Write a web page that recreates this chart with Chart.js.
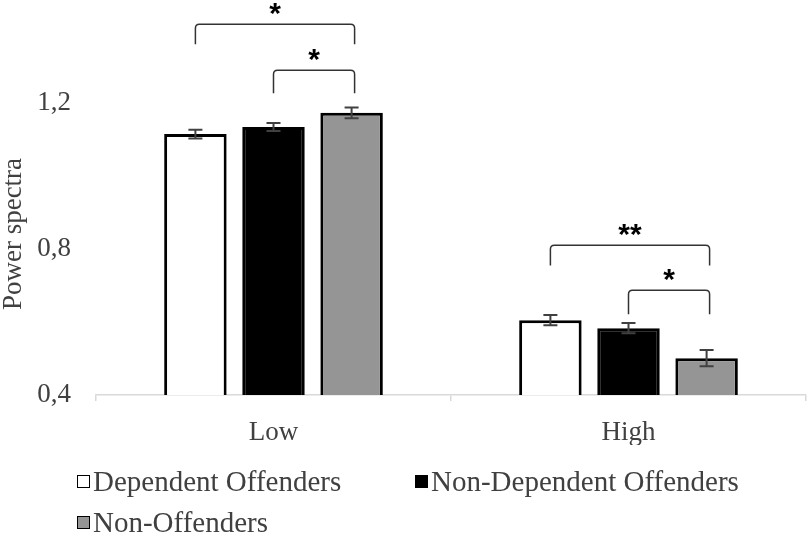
<!DOCTYPE html>
<html>
<head>
<meta charset="utf-8">
<script src="https://cdn.jsdelivr.net/npm/chart.js@4/dist/chart.umd.min.js"></script>
<style>
  body { margin: 0; background: #fff; }
  #wrap { position: relative; width: 810px; height: 541px; }
  #legend { position: absolute; left: 0; top: 0; width: 810px; height: 541px; pointer-events: none;
            font-family: "Liberation Serif", "Times New Roman", serif; font-size: 29px; color: #404040; }
  .item { position: absolute; display: flex; align-items: center; white-space: nowrap; }
  .box { width: 11px; height: 11px; border: 1.5px solid #000; margin-right: 3px; }
</style>
</head>
<body>
<div id="wrap">
  <canvas id="chart" width="810" height="541"></canvas>
  <div id="legend"></div>
</div>
<script>
// data
const categories = ["Low", "High"];
const seriesNames = ["Dependent Offenders", "Non-Dependent Offenders", "Non-Offenders"];
const dependent = [1.115, 0.605];
const nonDependent = [1.134, 0.583];
const nonOffenders = [1.173, 0.501];
const dependentErr = [0.012, 0.014];
const nonDependentErr = [0.011, 0.014];
const nonOffendersErr = [0.015, 0.022];
const yTicks = [0.4, 0.8, 1.2];

// significance brackets: category, from series, to series, top, leg end, label
const bracketCategory = [0, 0, 1, 1];
const bracketFrom = [0, 1, 0, 1];
const bracketTo = [2, 2, 2, 2];
const bracketTop = [1.416, 1.29, 0.81, 0.687];
const bracketEnd = [1.361, 1.227, 0.755, 0.621];
const bracketStars = ["*", "*", "**", "*"];

const fillColors = ["#ffffff", "#000000", "#959595"];
const errors = [dependentErr, nonDependentErr, nonOffendersErr];

const textColor = "#404040";
const serif = "'Liberation Serif', 'Times New Roman', serif";

// error bars
const errorBars = {
    id: "errorBars",
    afterDatasetsDraw(chart) {
        const ctx = chart.ctx;
        const y = chart.scales.y;
        ctx.save();
        ctx.strokeStyle = "#404040";
        ctx.lineWidth = 2;
        chart.data.datasets.forEach((ds, i) => {
            const meta = chart.getDatasetMeta(i);
            meta.data.forEach((bar, j) => {
                const v = ds.data[j];
                const e = errors[i][j];
                const top = y.getPixelForValue(v + e);
                const bot = y.getPixelForValue(v - e);
                ctx.beginPath();
                ctx.moveTo(bar.x, top); ctx.lineTo(bar.x, bot);
                ctx.moveTo(bar.x - 7, top); ctx.lineTo(bar.x + 7, top);
                ctx.moveTo(bar.x - 7, bot); ctx.lineTo(bar.x + 7, bot);
                ctx.stroke();
            });
        });
        ctx.restore();
    }
};

// brackets with asterisks, plus the axis title placed like the original
const brackets = {
    id: "brackets",
    afterDraw(chart) {
        const ctx = chart.ctx;
        const y = chart.scales.y;
        ctx.save();
        ctx.strokeStyle = "#333";
        ctx.lineWidth = 1.5;
        ctx.fillStyle = "#000";
        ctx.font = "bold 30px 'Liberation Sans', Arial, sans-serif";
        ctx.textAlign = "center";
        ctx.textBaseline = "alphabetic";
        bracketCategory.forEach((c, k) => {
            const x1 = chart.getDatasetMeta(bracketFrom[k]).data[c].x;
            const x2 = chart.getDatasetMeta(bracketTo[k]).data[c].x + 3;
            const top = y.getPixelForValue(bracketTop[k]);
            const end = y.getPixelForValue(bracketEnd[k]);
            const r = 4;
            ctx.beginPath();
            ctx.moveTo(x1, end);
            ctx.lineTo(x1, top + r);
            ctx.quadraticCurveTo(x1, top, x1 + r, top);
            ctx.lineTo(x2 - r, top);
            ctx.quadraticCurveTo(x2, top, x2, top + r);
            ctx.lineTo(x2, end);
            ctx.stroke();
            ctx.fillText(bracketStars[k], (x1 + x2) / 2, top - 1);
        });

        // y axis title
        ctx.fillStyle = textColor;
        ctx.font = "27px " + serif;
        ctx.textBaseline = "middle";
        ctx.translate(14, 234);
        ctx.rotate(-Math.PI / 2);
        ctx.fillText("Power spectra", 0, 0);
        ctx.restore();
    }
};

const datasets = [dependent, nonDependent, nonOffenders].map((d, i) => ({
    label: seriesNames[i],
    data: d,
    backgroundColor: fillColors[i],
    borderColor: "#000000",
    borderWidth: 3,
    borderSkipped: false,
    categoryPercentage: 0.66,
    barPercentage: 0.8
}));

new Chart(document.getElementById("chart"), {
    type: "bar",
    data: { labels: categories, datasets: datasets },
    options: {
        responsive: false,
        animation: false,
        layout: { padding: { top: 30, right: 4, bottom: 96, left: 0 } },
        plugins: { legend: { display: false }, tooltip: { enabled: false } },
        scales: {
            x: {
                afterFit(scale) {
                    scale.height = 50;
                    scale.paddingLeft = 0; scale.paddingRight = 0;
                },
                grid: { display: true, drawOnChartArea: false, drawTicks: true, tickLength: 6,
                        color: "#d9d9d9", lineWidth: 1.5, offset: true },
                border: { display: true, color: "#d9d9d9", width: 1.5 },
                ticks: { color: textColor, padding: 16, font: { family: serif, size: 27 } }
            },
            y: {
                min: 0.4,
                max: 1.4,
                afterFit(scale) {
                    scale.width = 96;
                    scale.paddingTop = 0; scale.paddingBottom = 0;
                },
                afterBuildTicks(scale) { scale.ticks = yTicks.map(v => ({ value: v })); },
                grid: { display: false, drawTicks: false },
                border: { display: false },
                ticks: {
                    color: textColor, padding: 25, font: { family: serif, size: 27 },
                    callback: v => Number(v).toFixed(1).replace(".", ",")
                }
            }
        }
    },
    plugins: [errorBars, brackets]
});

// legend as html text
const legendPos = [[77, 481], [415, 481], [77, 522]];
const legend = document.getElementById("legend");
seriesNames.forEach((name, i) => {
    const item = document.createElement("div");
    item.className = "item";
    item.style.left = legendPos[i][0] + "px";
    item.style.top = (legendPos[i][1] - 17) + "px";
    item.style.height = "34px";
    const box = document.createElement("span");
    box.className = "box";
    box.style.background = fillColors[i];
    item.appendChild(box);
    item.appendChild(document.createTextNode(name));
    legend.appendChild(item);
});
</script>
</body>
</html>
